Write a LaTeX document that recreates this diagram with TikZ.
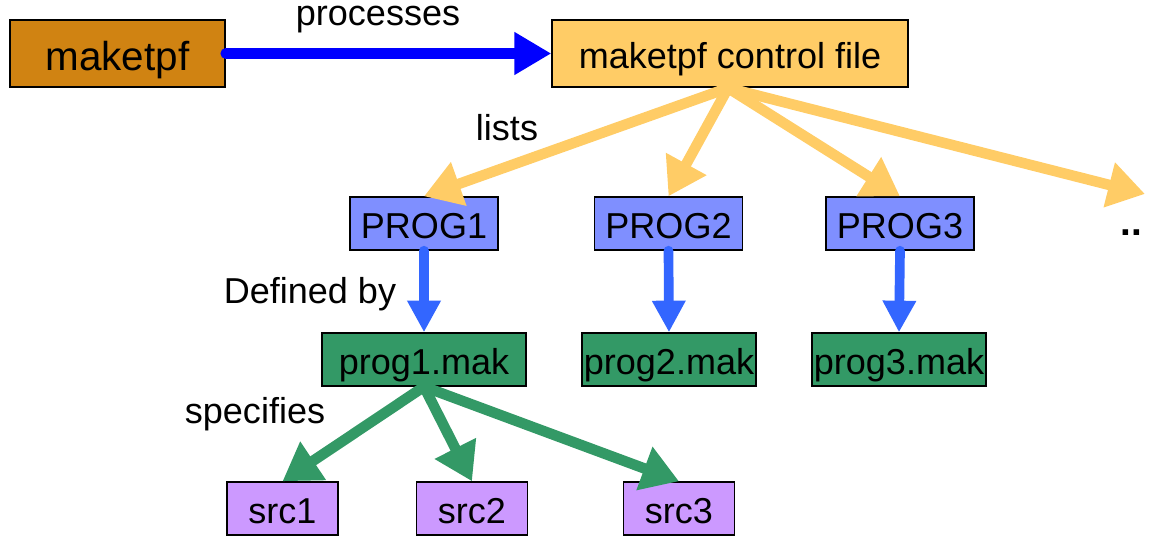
\documentclass[tikz,border=0pt]{standalone}
\usepackage{fontspec}
\setmainfont{Liberation Sans}
\usetikzlibrary{arrows.meta}

\begin{document}
\begin{tikzpicture}[x=0.02cm,y=-0.02cm,
  box/.style={draw=black,line width=0.8pt,inner sep=0pt,text height=17pt,text depth=0pt,font=\fontsize{20.5}{22}\selectfont},
  lbl/.style={font=\fontsize{20.5}{22}\selectfont},
  link/.style={line width=6pt,line cap=round,-{Triangle[length=21pt,width=25pt]}}]
\definecolor{ochre}{HTML}{D08312}
\definecolor{sand}{HTML}{FFCC66}
\definecolor{periwinkle}{HTML}{7F8FFF}
\definecolor{jade}{HTML}{339966}
\definecolor{lilac}{HTML}{CC99FF}
\definecolor{azure}{HTML}{3366FF}
\useasboundingbox (0,0) rectangle (1150,540);
% top row
\node [box,fill=ochre,font=\fontsize{23}{25}\selectfont,text height=19pt,minimum width=215*0.02cm,minimum height=67*0.02cm] (maketpf) at (117.5,53.5) {maketpf};
\node [box,fill=sand,minimum width=356*0.02cm,minimum height=67*0.02cm] (ctrl) at (730,53.5) {maketpf control file};
\draw [line width=6pt,blue,line cap=round,-{Triangle[length=21pt,width=23pt]}] (maketpf.east) -- (ctrl.west);
\node [lbl] (processes) at (378,20) {processes};
% programs and makefiles
\foreach \n/\px/\mx/\mw in {1/424/424/204,2/668.5/669/174,3/900/899/174}
{ \node [box,fill=periwinkle,minimum width=148*0.02cm,minimum height=53*0.02cm] (prog\n) at (\px,223.5) {PROG\n};
  \node [box,fill=jade,minimum width=\mw*0.02cm,minimum height=53*0.02cm] (mak\n) at (\mx,359.5) {prog\n.mak};
  \draw [line width=5.5pt,azure,line cap=round,-{Triangle[length=18pt,width=18pt]}] (prog\n.south) -- (mak\n.north);}
\coordinate (more) at (1145,194);
\node [lbl,font=\bfseries\fontsize{22}{24}\selectfont] (dots) at (1131,233) {..};
\coordinate (ctrlfoot) at (728,88);
\foreach \t in {prog1,prog2,prog3,more}
  \draw [link,sand] (ctrlfoot) -- (\t.north);
\node [lbl] (lists) at (507,128) {lists};
\node [lbl] (definedby) at (310,294) {Defined by};
% sources
\foreach \n/\sx in {1/282.5,2/472,3/679}
{ \node [box,fill=lilac,minimum width=111*0.02cm,minimum height=53*0.02cm] (src\n) at (\sx,508.5) {src\n};
  \draw [link,jade] (mak1.south) -- (src\n.north);}
\node [lbl] (specifies) at (255,414) {specifies};
\end{tikzpicture}
\end{document}
